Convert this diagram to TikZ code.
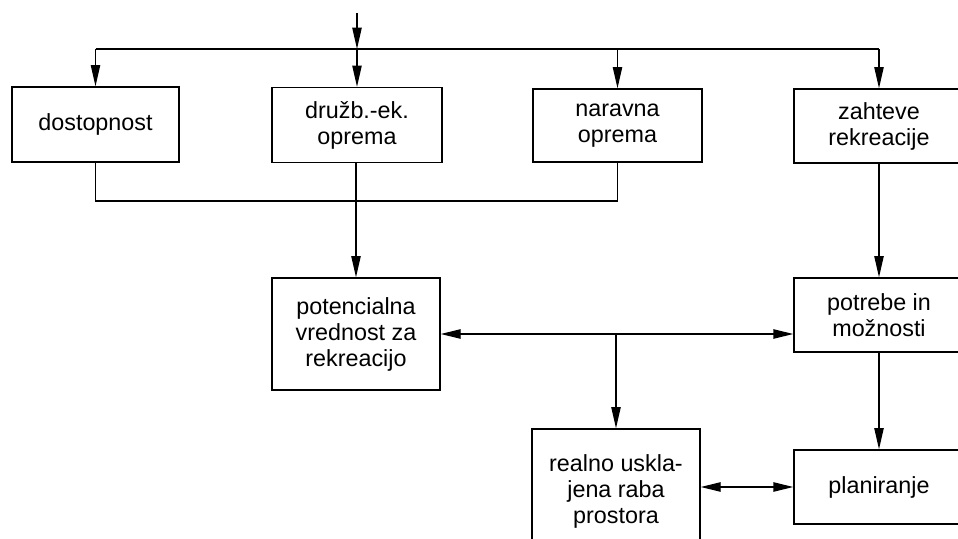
\documentclass[tikz,border=0pt]{standalone}
\usepackage{fontspec}
\setmainfont{Liberation Sans}
\usetikzlibrary{arrows.meta}
\begin{document}
\begin{tikzpicture}[x=0.75pt,y=-0.75pt,
  box/.style={draw, line width=1pt, inner sep=0pt, align=center,
    font=\fontsize{17.5}{19.5}\selectfont, minimum width=127.5pt, minimum height=55.5pt},
  ln/.style={line width=1pt},
  arr/.style={ln, -{Triangle[length=16pt,width=7pt]}},
  arrr/.style={ln, {Triangle[length=15pt,width=7pt]}-{Triangle[length=15pt,width=7pt]}}]
\useasboundingbox (0,0) rectangle (958,539);
\clip (0,0) rectangle (958,539);
\fill[white] (0,0) rectangle (958,539);

\node[box, minimum width=125.25pt, minimum height=56.25pt] (dost) at (95.5,124.5) {dostopnost};
\node[box, minimum height=56.25pt] (druzb) at (357,125) {družb.-ek.\\oprema};
\node[box, minimum width=126.75pt, minimum height=54.75pt] (narav) at (617.5,125.5) {naravna\\oprema};
\node[box] (zaht) at (879,126) {zahteve\\rekreacije};
\node[box, minimum width=126pt, minimum height=84pt] (pot) at (356,334) {potencialna\\vrednost za\\rekreacijo};
\node[box] (potr) at (879,315) {potrebe in\\možnosti};
\node[box, minimum width=126pt, minimum height=93pt] (real) at (616,491) {realno uskla-\\jena raba\\prostora};
\node[box] (plan) at (879,487) {planiranje};

\coordinate (src) at (357,13);
\coordinate (j) at (357,49);
\coordinate (m) at (357,201);
\coordinate (k) at (616,334);

\draw[arr] (src) -- (j);
\draw[ln] (j -| dost) -- (j -| zaht);
\draw[arr] (j -| dost) -- (dost.north);
\draw[arr] (j) -- (druzb.north);
\draw[arr] (j -| narav) -- (narav.north);
\draw[arr] (j -| zaht) -- (zaht.north);

\draw[ln] (dost.south) |- (m) -| (narav.south);
\draw[arr] (druzb.south -| pot) -- (pot.north);

\draw[arrr] (pot.east) -- (pot.east -| potr.west);
\draw[arr] (k) -- (real.north);

\draw[arr] (zaht.south) -- (potr.north);
\draw[arr] (potr.south) -- (plan.north);
\draw[arrr] (real.east |- plan.west) -- (plan.west);
\end{tikzpicture}
\end{document}
